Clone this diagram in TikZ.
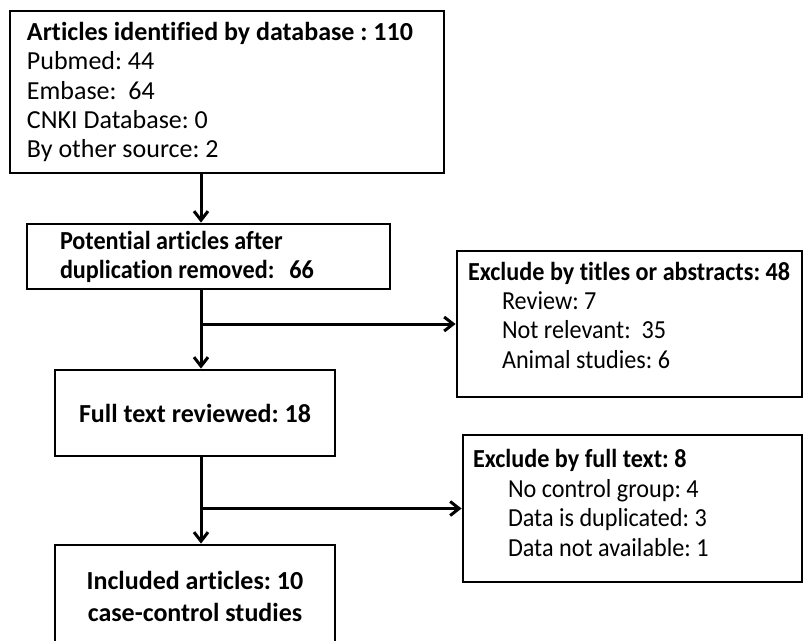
\documentclass[tikz,border=0pt]{standalone}
\usepackage{fontspec}
\setmainfont{Carlito}[Ligatures=CommonOff]
\newfontfamily\narrowfont{Carlito}[Ligatures=CommonOff, FakeStretch=0.93]
\frenchspacing
\usetikzlibrary{arrows.meta}

\tikzset{
  box/.style={draw, line width=2.8pt, rectangle, inner sep=0pt,
    font=\fontsize{26}{29.4}\selectfont},
  boldbox/.style={box, font=\fontsize{26}{29}\selectfont\bfseries},
  narrowbox/.style={box, font=\fontsize{26}{29.3}\selectfont\narrowfont},
  link/.style={-{Straight Barb[length=9pt,width=14pt]}, line width=3pt},
}

\begin{document}
\begin{tikzpicture}[x=1pt,y=-1pt]
  \useasboundingbox (0,0) rectangle (803,640);
  % Left column
  \node[box, minimum width=434pt, minimum height=162pt, text width=400pt, align=flush left] (ident) at (227,92)
    {\textbf{Articles identified by database : 110}\\
     Pubmed: 44\\
     Embase:~~64\\
     CNKI Database: 0\\
     By other source: 2};
  \node[narrowbox, minimum width=363pt, minimum height=65pt, text width=297pt, align=flush left,
    font=\fontsize{26}{29}\selectfont\narrowfont\bfseries] (dedup) at (208.5,256.5)
    {Potential articles after\\
     duplication removed:\hspace*{15pt}66};
  \node[boldbox, minimum width=280pt, minimum height=86pt, align=center] (full) at (195,413)
    {Full text reviewed: 18};
  \node[boldbox, minimum width=280pt, minimum height=102pt, align=center,
    font=\fontsize{26}{32}\selectfont\bfseries] (incl) at (195,596)
    {Included articles: 10\\
     case-control studies};
  % Right column
  \node[narrowbox, minimum width=345pt, minimum height=146pt, text width=323pt, align=flush left] (excla) at (629.5,324)
    {\textbf{Exclude by titles or abstracts: 48}\\
     \hspace*{34pt}Review: 7\\
     \hspace*{34pt}Not relevant:~~35\\
     \hspace*{34pt}Animal studies: 6\rule[-18pt]{0pt}{0pt}};
  \node[narrowbox, minimum width=339pt, minimum height=147pt, text width=319pt, align=flush left,
    font=\fontsize{26}{29.6}\selectfont\narrowfont] (exclb) at (632.5,508.5)
    {\textbf{Exclude by full text: 8}\\
     \hspace*{35pt}No control group: 4\\
     \hspace*{35pt}Data is duplicated: 3\\
     \hspace*{35pt}Data not available: 1\rule[-11pt]{0pt}{0pt}};
  % Connectors
  \coordinate (spine) at (201,0);
  \draw[link] (ident.south -| spine) -- (dedup.north -| spine);
  \draw[link] (dedup.south -| spine) -- (full.north -| spine);
  \draw[link] (spine |- excla.west) -- (excla.west);
  \draw[link] (full.south -| spine) -- (incl.north -| spine);
  \draw[link] (spine |- exclb.west) -- (exclb.west);
\end{tikzpicture}
\end{document}
